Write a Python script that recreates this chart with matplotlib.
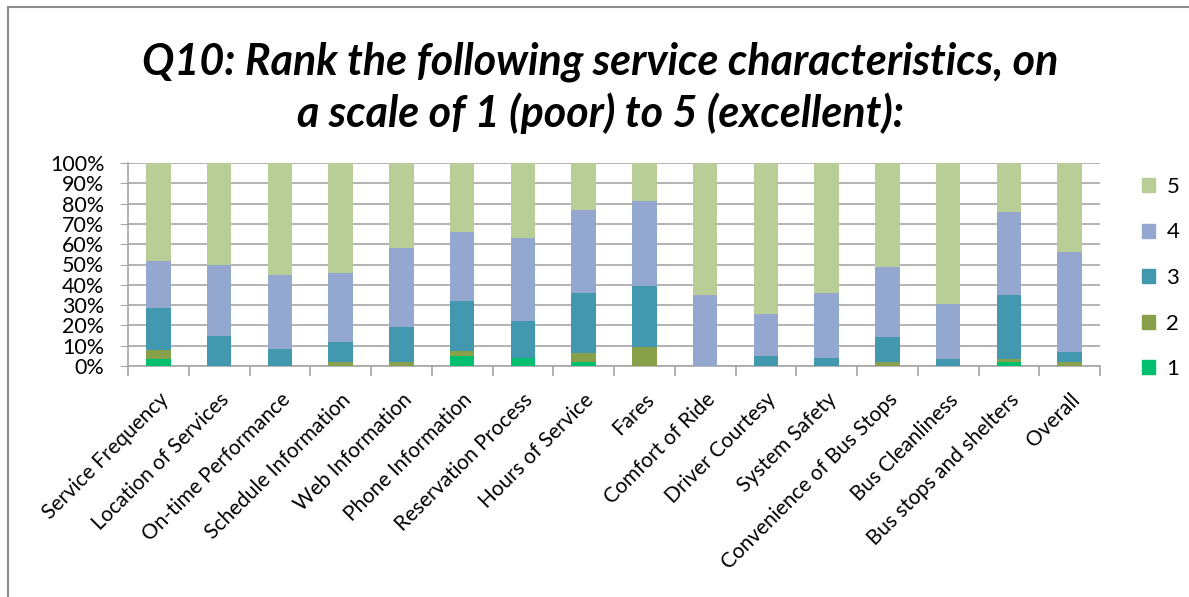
import numpy as np
import matplotlib.pyplot as plt
import matplotlib.transforms as mtransforms
from matplotlib.patches import Rectangle, Patch

# categories and share of each rating (percent)
categorias = ["Service Frequency", "Location of Services", "On-time Performance",
              "Schedule Information", "Web Information", "Phone Information",
              "Reservation Process", "Hours of Service", "Fares", "Comfort of Ride",
              "Driver Courtesy", "System Safety", "Convenience of Bus Stops",
              "Bus Cleanliness", "Bus stops and shelters", "Overall"]

nota1 = [3.3, 0, 0, 0, 0, 4.8, 3.8, 2.0, 0, 0, 0, 0, 0, 0, 2.1, 0]
nota2 = [4.4, 0, 0, 2.0, 2.0, 2.4, 0, 4.6, 9.5, 0, 0, 0, 2.0, 0, 1.2, 2.0]
nota3 = [20.8, 14.8, 8.4, 9.8, 17.3, 24.8, 18.3, 29.5, 30.0, 0, 4.9, 3.8, 12.3, 3.3, 31.6, 4.9]
nota4 = [23.1, 35.0, 36.4, 33.9, 38.6, 34.1, 41.0, 40.9, 41.6, 34.9, 20.8, 32.3, 34.6, 27.0, 41.0, 49.3]
nota5 = [48.4, 50.2, 55.2, 54.3, 42.1, 33.9, 36.9, 23.0, 18.9, 65.1, 74.3, 63.9, 51.1, 69.7, 24.1, 43.8]

series = [("1", nota1, "#00BF6F"), ("2", nota2, "#88A049"), ("3", nota3, "#4298AF"),
          ("4", nota4, "#94A8CF"), ("5", nota5, "#B9CD96")]

fig = plt.figure(figsize=(11.89, 5.97), dpi=100)
plt.rcParams['font.family'] = ['Lato', 'DejaVu Sans']

# moldura cinza do gráfico
fig.patches.append(Rectangle((8 / 1189, -0.1), 1.2, 1 - 7 / 597 + 0.1,
                             transform=fig.transFigure, fill=False,
                             edgecolor="#8c8c8c", linewidth=1.5))

ax = fig.add_axes([128 / 1189, 1 - 366 / 597, (1100 - 128) / 1189, (366 - 163) / 597])

x = np.arange(len(categorias))
tot = np.array(nota1) + np.array(nota2) + np.array(nota3) + np.array(nota4) + np.array(nota5)
base = np.zeros(len(categorias))
for nome, vals, cor in series:
    v = np.array(vals) / tot * 100
    ax.bar(x, v, 0.4, bottom=base, color=cor, zorder=3)
    base += v

ax.set_xlim(-0.5, len(categorias) - 0.5)
ax.set_ylim(0, 100)
ax.set_yticks(np.arange(0, 101, 10))
ax.set_yticklabels([f"{t}%" for t in range(0, 101, 10)], fontsize=15.5)
ax.yaxis.grid(True, color="#a6a6a6", linewidth=1.2, zorder=0)
ax.tick_params(axis="y", length=6, color="#a6a6a6", pad=11)

ax.set_xticks(x)
ax.set_xticklabels(categorias, rotation=45, ha="right", rotation_mode="anchor", fontsize=15)
ax.tick_params(axis="x", length=0, pad=17)
desloc = mtransforms.ScaledTranslation(0, 0, fig.dpi_scale_trans)
for lbl in ax.get_xticklabels():
    lbl.set_transform(lbl.get_transform() + desloc)
ax.set_xticks(np.arange(-0.5, len(categorias), 1), minor=True)
ax.tick_params(axis="x", which="minor", length=7, color="#a6a6a6", width=1.2)

for s in ["top", "right"]:
    ax.spines[s].set_visible(False)
ax.spines["left"].set_color("#a6a6a6")
ax.spines["bottom"].set_color("#a6a6a6")
ax.spines["left"].set_linewidth(1.2)
ax.spines["bottom"].set_linewidth(1.2)

fig.text(0.505, 0.853, "Q10: Rank the following service characteristics, on\n"
         "a scale of 1 (poor) to 5 (excellent):", ha="center", va="center",
         fontsize=31, fontweight="bold", fontstyle="italic", linespacing=1.3)

handles = [Patch(color=cor, label=nome) for nome, vals, cor in reversed(series)]
fig.legend(handles=handles, loc="center left", bbox_to_anchor=(1122 / 1189, 1 - 278 / 597),
           frameon=False, fontsize=16, handlelength=0.6, handleheight=0.6,
           handletextpad=0.5, labelspacing=1.15)

fig.savefig("out.png", dpi=100)
